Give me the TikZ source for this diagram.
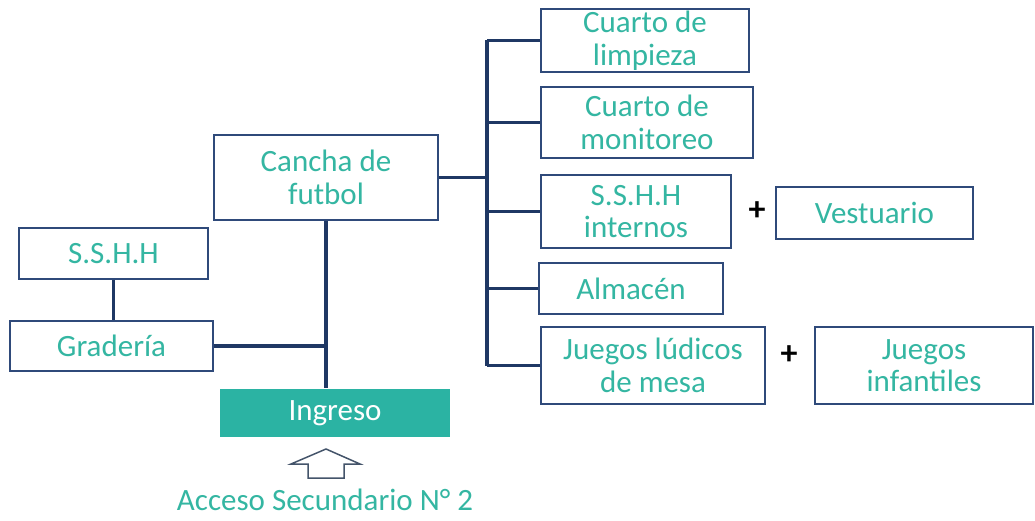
\documentclass[tikz,border=0pt]{standalone}
\usepackage{fontspec}
\setmainfont{Carlito}
\definecolor{teal1}{RGB}{52,182,162}
\definecolor{navy}{RGB}{31,56,100}
\definecolor{boxline}{RGB}{47,74,122}
\definecolor{ingfill}{RGB}{43,179,163}
\definecolor{arrowc}{RGB}{68,84,106}
\begin{document}
\begin{tikzpicture}[x=1pt,y=-1pt,
  box/.style={draw=boxline,line width=1.5pt,fill=white,text=teal1,align=center,inner sep=0pt,
    font=\fontsize{31}{32.5}\selectfont},
  conn/.style={draw=navy,line width=3.3pt},
  plus/.style={font=\fontsize{34}{34}\selectfont\bfseries,text=black,inner sep=0pt}]
\useasboundingbox (0,0) rectangle (1035,521);
\node[box,minimum width=208pt,minimum height=63pt] (limp) at (645,40.5) {Cuarto de\\limpieza};
\node[box,minimum width=212pt,minimum height=71pt] (moni) at (647,122.5) {Cuarto de\\monitoreo};
\node[box,minimum width=224pt,minimum height=85pt] (cancha) at (326,177.5) {Cancha de\\futbol};
\node[box,minimum width=190pt,minimum height=73pt] (sshhi) at (636,211.5) {S.S.H.H\\internos};
\node[box,minimum width=197pt,minimum height=52pt] (vest) at (874.5,213) {Vestuario};
\node[box,minimum width=189pt,minimum height=51pt] (sshh) at (113.5,253.5) {S.S.H.H};
\node[box,minimum width=184pt,minimum height=51pt] (alm) at (631,288.5) {Almacén};
\node[box,minimum width=203pt,minimum height=50pt] (grad) at (111.5,346) {Gradería};
\node[box,minimum width=224pt,minimum height=77pt] (juegos) at (653,365.5) {Juegos lúdicos\\de mesa};
\node[box,minimum width=218pt,minimum height=77pt] (infant) at (924,365.5) {Juegos\\infantiles};
\node[box,draw=none,fill=ingfill,text=white,minimum width=230pt,minimum height=48pt] (ingreso) at (335,413) {\raisebox{-1pt}{Ingreso}};
\node[plus] (p1) at (757,211) {+};
\node[plus] (p2) at (789,355) {+};
\node[text=teal1,inner sep=0pt,font=\fontsize{31}{32.5}\selectfont] (acceso) at (325,500) {Acceso Secundario N° 2};
% trunk
\coordinate (trk) at (487,0);
\draw[conn] (trk |- limp.west) -- (trk |- juegos.west);
\draw[conn] (limp.west) -- (limp.west -| trk);
\draw[conn] (moni.west) -- (moni.west -| trk);
\draw[conn] (sshhi.west) -- (sshhi.west -| trk);
\draw[conn] (alm.west) -- (alm.west -| trk);
\draw[conn] (juegos.west) -- (juegos.west -| trk);
\draw[conn] (cancha.east) -- (cancha.east -| trk);
\draw[conn] (cancha.south) -- (cancha.south |- ingreso.north);
\draw[conn] (grad.east) -- (grad.east -| cancha.south);
\draw[conn] (sshh.south) -- (sshh.south |- grad.north);
% up arrow
\draw[draw=arrowc,line width=1.5pt,line join=miter,fill=white]
  (326,449) -- (360,464) -- (344,464) -- (344,478) -- (308,478) -- (308,464) -- (291,464) -- cycle;
\end{tikzpicture}
\end{document}
